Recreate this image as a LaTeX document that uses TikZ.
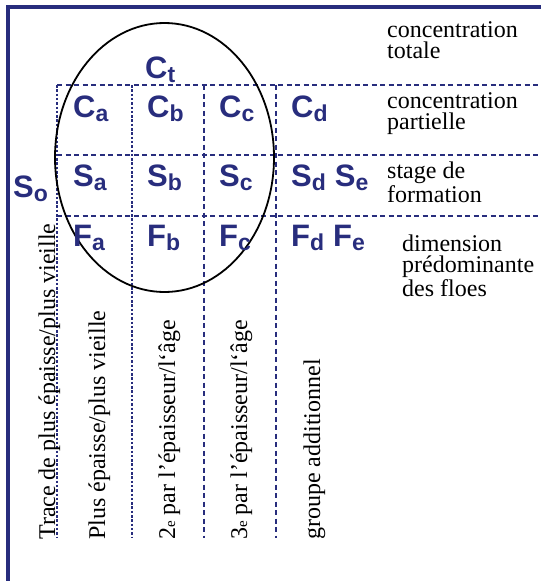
\documentclass[tikz,border=0pt]{standalone}
\usepackage{fontspec}
\setmainfont{Liberation Serif}
\newfontfamily\labfont{Liberation Sans}
\definecolor{navy}{RGB}{40,45,125}
\newcommand{\glace}[2]{{\fontsize{31}{31}\selectfont #1}\raisebox{-4pt}{\fontsize{23}{23}\selectfont #2}}
\newcommand{\rang}[1]{#1{\fontsize{15}{15}\selectfont e}}

\begin{document}
\begin{tikzpicture}[x=1pt, y=-1pt,
  sym/.style={font=\labfont\bfseries, text=navy, anchor=base west, inner sep=0pt},
  legende/.style={font=\fontsize{24}{21}\selectfont, align=left, anchor=base west, inner sep=0pt},
  colonne/.style={font=\fontsize{24}{24}\selectfont, rotate=90, anchor=base west, inner sep=0pt},
  grille/.style={navy, line width=2pt, dash pattern=on 5pt off 3.5pt},
  grillefine/.style={navy, line width=1.5pt, dash pattern=on 2.5pt off 1.8pt}]
\useasboundingbox (0,0) rectangle (541,581);

% frame
\draw[navy, line width=4pt] (8,581) -- (8,7) -- (541,7);

% dashed grid
\draw[grille] (57,85) -- (541,85);
\draw[grille] (57,155) -- (541,155);
\draw[grille] (57,216) -- (541,216);
\draw[grillefine] (57,85) -- (57,538);
\draw[grillefine] (132,85) -- (132,538);
\draw[grille] (204,85) -- (204,538);
\draw[grille] (276,85) -- (276,538);

% total concentration
\draw[black, line width=1.8pt] (164.5,157.5) ellipse [x radius=109.5pt, y radius=134.5pt];

% symbols
\node[sym] (ct) at (145,78) {\glace{C}{t}};
\node[sym] (ca) at (73,117) {\glace{C}{a}};
\node[sym] (cb) at (147,117) {\glace{C}{b}};
\node[sym] (cc) at (219,117) {\glace{C}{c}};
\node[sym] (cd) at (291,117) {\glace{C}{d}};
\node[sym] (so) at (13,197) {\glace{S}{o}};
\node[sym] (sa) at (73,186) {\glace{S}{a}};
\node[sym] (sb) at (147,186) {\glace{S}{b}};
\node[sym] (sc) at (219,186) {\glace{S}{c}};
\node[sym] (sd) at (291,186) {\glace{S}{d}\hspace{9pt}\glace{S}{e}};
\node[sym] (fa) at (73,246) {\glace{F}{a}};
\node[sym] (fb) at (147,246) {\glace{F}{b}};
\node[sym] (fc) at (219,246) {\glace{F}{c}};
\node[sym] (fd) at (291,246) {\glace{F}{d}\hspace{9pt}\glace{F}{e}};

% legends (anchored on their last line)
\node[legende] (tot) at (387,58) {concentration\\totale};
\node[legende] (part) at (387,129) {concentration\\partielle};
\node[legende] (stade) at (387,202) {stage de\\formation};
\node[legende] (dim) at (402,296) {dimension\\prédominante\\des floes};

% columns
\node[colonne] (trace) at (55,540) {Trace de plus épaisse/plus vieille};
\node[colonne] (plus) at (105,540) {Plus épaisse/plus vieille};
\node[colonne] (deux) at (175,540) {\rang{2} par l’épaisseur/l‘âge};
\node[colonne] (trois) at (247,540) {\rang{3} par l’épaisseur/l‘âge};
\node[colonne] (autre) at (320,540) {groupe additionnel};
\end{tikzpicture}
\end{document}
